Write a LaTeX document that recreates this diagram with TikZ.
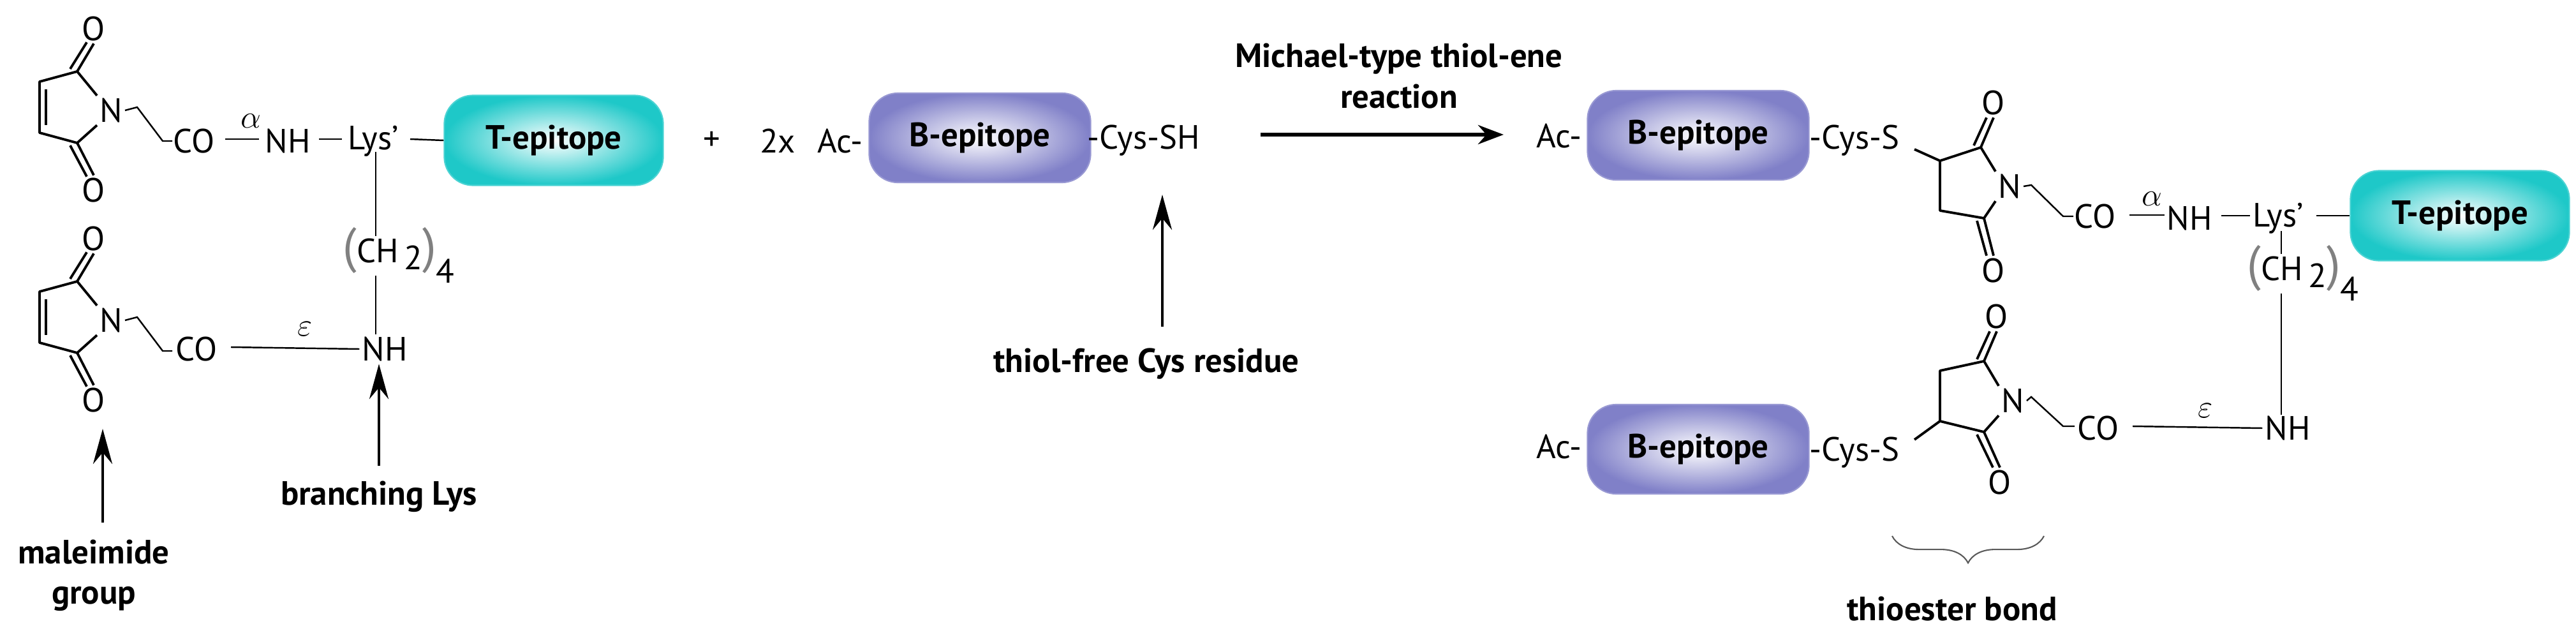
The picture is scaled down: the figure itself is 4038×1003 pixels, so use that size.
\documentclass[tikz,border=0pt]{standalone}
\usepackage{fontspec}
\setmainfont{PT Sans}
\usetikzlibrary{arrows.meta,decorations.pathreplacing,shapes.misc,calc}
\definecolor{tcol}{RGB}{30,200,200}
\definecolor{bcol}{RGB}{128,128,200}
\begin{document}
\begin{tikzpicture}[x=0.01cm,y=-0.01cm,
  every node/.style={font=\fontsize{15}{17}\selectfont, inner sep=1pt},
  lbl/.style={font=\fontsize{15}{18}\selectfont\bfseries, align=center},
  tbox/.style={rounded corners=0.45cm, shading=radial, inner color=white, outer color=tcol, draw=tcol!80, line width=0.6pt, minimum width=3.43cm, minimum height=1.41cm, font=\fontsize{15}{17}\selectfont\bfseries},
  bbox/.style={rounded corners=0.45cm, shading=radial, inner color=white, outer color=bcol, draw=bcol!80, line width=0.6pt, minimum width=3.47cm, minimum height=1.40cm, font=\fontsize{15}{17}\selectfont\bfseries},
  ring/.style={line width=1.1pt, line join=round},
  bond/.style={line width=0.7pt},
  big/.style={line width=1.4pt, -{Stealth[length=5.5mm,width=3mm]}}]
\useasboundingbox (0,0) rectangle (4038,1003);

% ---------- left: maleimides ----------
\foreach \dy/\s in {0/a,329/b}{
\begin{scope}[yshift=-\dy*0.01cm]
\node (N\s) at (174,173) {N};
\node (Ot\s) at (147,45) {O};
\node (Ob\s) at (147,298) {O};
\draw[ring] (N\s.north west) -- (121,112) -- (62,128) -- (62,208) -- (121,224) -- (N\s.south west);
\draw[ring] (72,140) -- (72,196);
\draw[ring] (121,112) -- (Ot\s.south);
\draw[ring] (110,108) -- ($(Ot\s.south)+(-11,-2)$);
\draw[ring] (121,224) -- (Ob\s.north);
\draw[ring] (110,228) -- ($(Ob\s.north)+(-11,2)$);
\draw[bond] (N\s.east) -- (215,168) -- (255,221) -- (270,221);
\end{scope}}
\node (COa) at (304,221) {CO};
\node (NHa) at (451,221) {NH};
\node (Lys) at (585,221) {Lys'};
\node[tbox] (T1) at (868,220) {T-epitope};
\draw[bond] (353,218) -- (406,218);
\node at (393,190) {$\alpha$};
\draw[bond] (500,218) -- (536,218);
\draw[bond] (643,218) -- (T1.west);
\node (CH1) at (625,400) {{\fontsize{22}{22}\selectfont\color{gray}(}CH\,\raisebox{-0.4ex}{2}{\fontsize{22}{22}\selectfont\color{gray})}\raisebox{-1.2ex}{4}};
\node (COb) at (308,547) {CO};
\node (NHb) at (603,547) {NH};
\draw[bond] (589,238) -- (589,370);
\draw[bond] (589,432) -- (NHb.north -| 589,0);
\draw[bond] (362,544) -- (NHb.west);
\node at (478,516) {$\varepsilon$};
\coordinate (a1) at (594,730);
\draw[big] (a1) -- (NHb.south -| a1);
\node[lbl] (bl) at (594,778) {branching Lys};
\coordinate (a2) at (161,819);
\draw[big] (a2) -- (161,672);
\node[lbl] (mg) at (147,902) {maleimide\\group};

% ---------- middle ----------
\node (plus) at (1116,221) {+};
\node (twox) at (1219,221) {2x};
\node (Ac1) at (1317,221) {Ac-};
\node[bbox] (B1) at (1536,216) {B-epitope};
\node (CysSH) at (1793,220) {-Cys-SH};
\coordinate (a3) at (1822,512);
\draw[big] (a3) -- (1822,305);
\node[lbl] (tf) at (1797,570) {thiol-free Cys residue};
\coordinate (r1) at (1976,211);
\coordinate (r2) at (2357,211);
\draw[line width=1.6pt, -{Stealth[length=4mm,width=3mm]}] (r1) -- (r2);
\node[lbl] (mi) at (2193,119) {Michael-type thiol-ene\\reaction};

% ---------- right ----------
\node (Ac2) at (2444,213) {Ac-};
\node[bbox] (B2) at (2662,212) {B-epitope};
\node (CS2) at (2907,220) {-Cys-S};
\node (Ac3) at (2444,700) {Ac-};
\node[bbox] (B3) at (2662,704) {B-epitope};
\node (CS3) at (2907,709) {-Cys-S};
% upper succinimide
\node (N2) at (3150,292) {N};
\node (O2t) at (3125,161) {O};
\node (O2b) at (3125,424) {O};
\draw[ring] (3001,234) -- (3041,252);
\draw[ring] (N2.north west) -- (3105,231) -- (3041,252) -- (3041,330) -- (3110,342) -- (N2.south west);
\draw[ring] (3105,231) -- (O2t.south);
\draw[ring] (3094,228) -- ($(O2t.south)+(-11,0)$);
\draw[ring] (3110,342) -- (O2b.north);
\draw[ring] (3099,346) -- ($(O2b.north)+(-11,0)$);
\draw[bond] (N2.east) -- (3184,290) -- (3234,339) -- (3250,339);
\node (CO2) at (3284,339) {CO};
\draw[bond] (3338,337) -- (3393,337);
\node at (3373,312) {$\alpha$};
\node (NH2) at (3432,342) {NH};
\draw[bond] (3482,338) -- (3527,338);
\node (Lys2) at (3571,342) {Lys'};
\node[tbox] (T2) at (3856,338) {T-epitope};
\draw[bond] (3631,338) -- (T2.west);
\node (CH2) at (3610,428) {{\fontsize{22}{22}\selectfont\color{gray}(}CH\,\raisebox{-0.4ex}{2}{\fontsize{22}{22}\selectfont\color{gray})}\raisebox{-1.2ex}{4}};
\draw[bond] (3576,362) -- (3576,398);
\draw[bond] (3576,460) -- (3576,650);
% lower succinimide
\node (N3) at (3155,628) {N};
\node (O3t) at (3130,496) {O};
\node (O3b) at (3135,756) {O};
\draw[ring] (3001,689) -- (3041,660);
\draw[ring] (N3.north west) -- (3110,566) -- (3041,581) -- (3041,660) -- (3110,677) -- (N3.south west);
\draw[ring] (3110,566) -- (O3t.south);
\draw[ring] (3099,563) -- ($(O3t.south)+(-11,0)$);
\draw[ring] (3110,677) -- (O3b.north);
\draw[ring] (3099,681) -- ($(O3b.north)+(-11,0)$);
\draw[bond] (N3.east) -- (3184,622) -- (3234,668) -- (3252,668);
\node (CO3) at (3289,671) {CO};
\node (NH3) at (3586,671) {NH};
\draw[bond] (3343,668) -- (NH3.west);
\node at (3457,644) {$\varepsilon$};
\coordinate (br1) at (2966,840);
\coordinate (br2) at (3204,840);
\draw[gray!70!black, line width=0.6pt, decorate, decoration={brace, mirror, amplitude=12pt}] (br1) -- (br2);
\node[lbl] (tb) at (3060,954) {thioester bond};
\end{tikzpicture}
\end{document}
